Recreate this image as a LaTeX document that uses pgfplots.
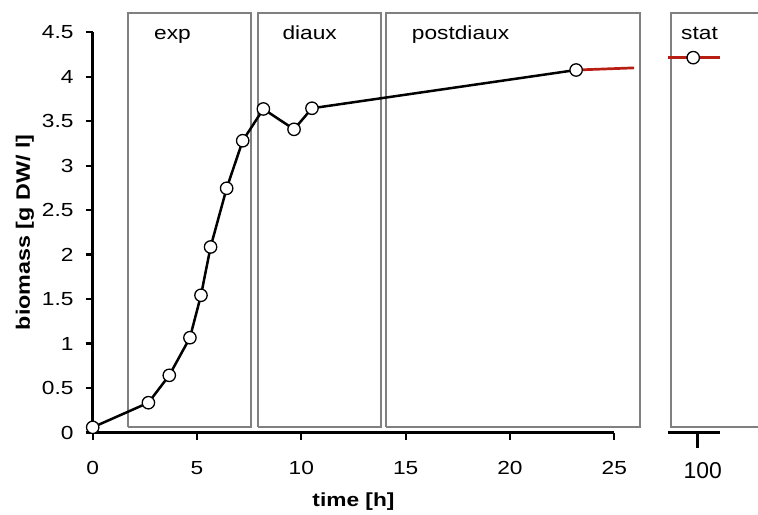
\documentclass[border=0pt]{standalone}
\usepackage{pgfplots}
\pgfplotsset{compat=1.18}
\usepackage{fontspec}
\setmainfont[FakeStretch=1.2]{Liberation Sans}
\newfontfamily\plainfont{Liberation Sans}
\definecolor{darkred}{RGB}{185,30,20}
\definecolor{boxgray}{RGB}{128,128,128}

\begin{document}
\begin{tikzpicture}
\path[use as bounding box] (-92.7bp,-82.5bp) rectangle (665.3bp,432.5bp);
\clip (-92.7bp,-82.5bp) rectangle (665.3bp,432.5bp);
\begin{axis}[
  at={(0,0)}, anchor=south west,
  scale only axis, width=521.6bp, height=400.2bp,
  xmin=0, xmax=25, ymin=0, ymax=4.5,
  clip=false,
  axis x line*=bottom, axis y line*=left,
  axis line style={line width=2.5bp, -},
  xtick={0,5,10,15,20,25},
  ytick={0,0.5,1,1.5,2,2.5,3,3.5,4,4.5},
  yticklabels={0,0.5,1,1.5,2,2.5,3,3.5,4,4.5},
  tick align=outside, major tick length=7bp,
  tick style={line width=2.3bp, black},
  /pgf/number format/assume math mode=true,
  ticklabel style={font=\fontsize{19}{21}\selectfont, inner sep=0pt},
  xticklabel style={anchor=base, yshift=-35bp},
  yticklabel style={anchor=east, xshift=-12bp},
  every axis x label/.style={at={(rel axis cs:0.5,0)}, anchor=base, yshift=-74.2bp, font=\fontsize{19}{21}\selectfont\bfseries},
  every axis y label/.style={at={(rel axis cs:0,0.5)}, xshift=-62.7bp, rotate=90, anchor=base, font=\fontsize{19.5}{21}\selectfont\bfseries},
  xlabel={time [h]},
  ylabel={biomass [g DW/ l]},
]
\addplot[boxgray, line width=1.8bp, line join=miter] coordinates {(1.69,0.065) (7.57,0.065) (7.57,4.72) (1.69,4.72) (1.69,0.065)};
\addplot[boxgray, line width=1.8bp, line join=miter] coordinates {(7.94,0.065) (13.82,0.065) (13.82,4.72) (7.94,4.72) (7.94,0.065)};
\addplot[boxgray, line width=1.8bp, line join=miter] coordinates {(14.06,0.065) (26.24,0.065) (26.24,4.72) (14.06,4.72) (14.06,0.065)};
\node[anchor=base west, inner sep=0pt, font=\fontsize{19}{21}\selectfont] at (axis cs:2.94,4.414) {exp};
\node[anchor=base west, inner sep=0pt, font=\fontsize{19}{21}\selectfont] at (axis cs:9.09,4.414) {diaux};
\node[anchor=base west, inner sep=0pt, font=\fontsize{19}{21}\selectfont] at (axis cs:15.29,4.42) {postdiaux};
\addplot[darkred, line width=2.7bp] coordinates {(23.17,4.076) (25.95,4.10)};
\addplot[black, line width=2.5bp, mark=*, mark size=6.2bp,
  mark options={fill=white, draw=black, line width=1.3bp}] coordinates {
  (0,0.058) (2.67,0.335) (3.67,0.643) (4.66,1.066) (5.19,1.543) (5.65,2.086)
  (6.42,2.746) (7.19,3.281) (8.18,3.638) (9.65,3.409) (10.51,3.646) (23.17,4.076)
};
\end{axis}
\begin{axis}[
  at={(575.3bp,0)}, anchor=south west,
  scale only axis, width=52bp, height=400.2bp,
  xmin=98.86, xmax=100.86, ymin=0, ymax=4.5,
  clip=false,
  axis x line*=bottom, axis y line=none,
  axis line style={line width=2.8bp, -},
  xtick={100},
  tick align=outside, major tick length=15bp,
  tick style={line width=2.8bp, black},
  /pgf/number format/assume math mode=true,
  xticklabel style={font=\plainfont\fontsize{23}{25}\selectfont, inner sep=0pt, anchor=base, yshift=-31bp, xshift=5bp},
]
\addplot[boxgray, line width=1.8bp, line join=miter] coordinates {(104,0.065) (98.96,0.065) (98.96,4.72) (104,4.72)};
\node[anchor=base west, inner sep=0pt, font=\fontsize{19}{21}\selectfont] at (axis cs:99.36,4.42) {stat};
\addplot[darkred, line width=2.7bp] coordinates {(98.86,4.215) (100.86,4.215)};
\addplot[black, only marks, mark=*, mark size=6.2bp,
  mark options={fill=white, draw=black, line width=1.3bp}] coordinates {(99.83,4.215)};
\end{axis}
\end{tikzpicture}
\end{document}
